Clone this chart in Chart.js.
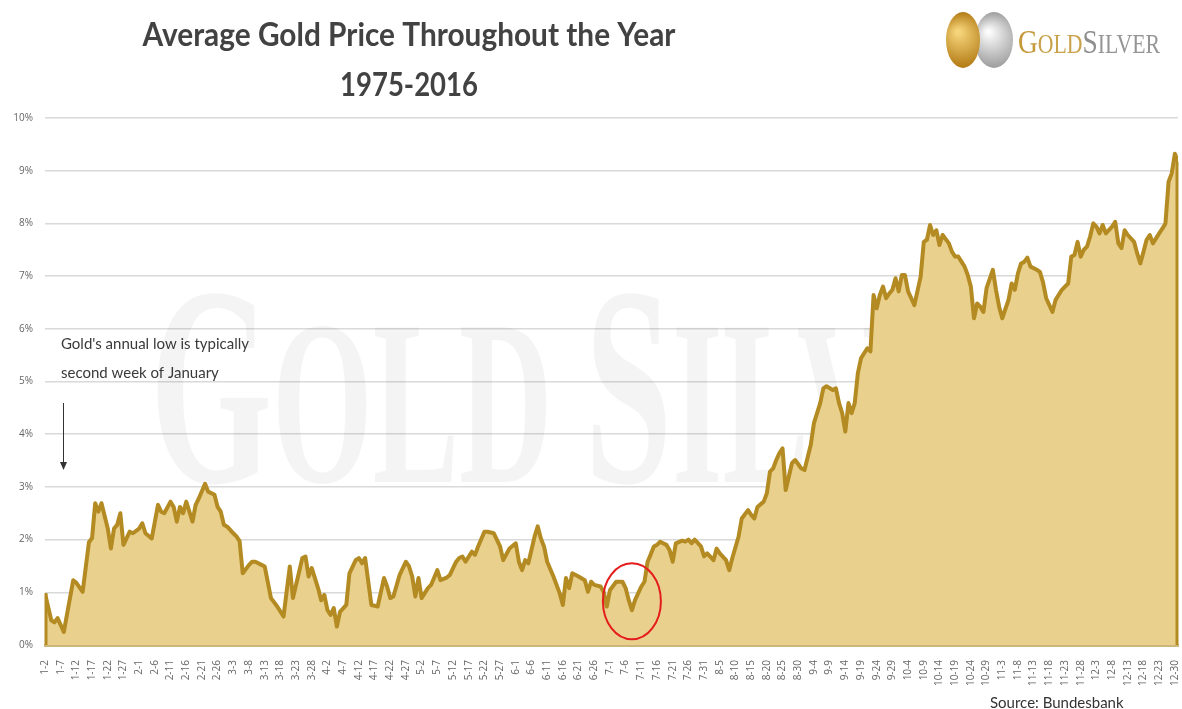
<!DOCTYPE html>
<html>
<head>
<meta charset="utf-8">
<style>
    body { margin: 0; background: #ffffff; }
    #wrap { position: relative; width: 1182px; height: 709px; overflow: hidden; }
</style>
<script src="https://cdn.jsdelivr.net/npm/chart.js@4"></script>
</head>
<body>
<div id="wrap"><canvas id="goldChart" width="1182" height="709"></canvas></div>
<script>
// days counted from Jan 2, average gain (%) reached on that day
var days = [0, 2, 3, 4, 6, 9, 10, 12, 14, 15, 16, 17, 18, 20, 21, 22, 23, 24, 25, 27, 28, 30, 31, 32, 34, 36, 37, 38, 40, 41,
    42, 43, 44, 45, 47, 48, 49, 51, 52, 54, 55, 56, 57, 58, 60, 61, 62, 63, 65, 66, 67, 69, 70, 72, 74, 76, 78, 79, 82, 83,
    84, 85, 87, 88, 89, 90, 91, 92, 93, 94, 96, 97, 99, 100, 101, 102, 104, 106, 108, 109, 110, 111, 113, 115, 116, 117, 118, 119, 120, 122,
    123, 125, 126, 128, 129, 131, 132, 133, 134, 136, 137, 138, 140, 141, 143, 145, 146, 148, 150, 151, 152, 153, 154, 156, 157, 158, 159, 160, 162, 164,
    165, 166, 167, 168, 170, 172, 173, 174, 175, 177, 178, 179, 180, 182, 184, 185, 186, 187, 188, 190, 191, 192, 193, 194, 195, 196, 198, 199, 200, 201,
    203, 204, 205, 206, 207, 209, 210, 211, 213, 214, 215, 217, 218, 219, 221, 222, 224, 225, 226, 227, 229, 230, 231, 232, 233, 234, 235, 236, 238, 239,
    241, 242, 244, 245, 247, 248, 249, 251, 252, 253, 254, 255, 256, 257, 258, 259, 260, 262, 263, 264, 265, 266, 267, 268, 269, 270, 271, 272, 273, 274,
    275, 276, 277, 279, 280, 281, 282, 283, 284, 285, 286, 288, 289, 290, 291, 293, 294, 295, 296, 297, 298, 299, 300, 302, 303, 304, 305, 307, 308, 309,
    310, 311, 312, 313, 314, 316, 317, 318, 319, 321, 322, 324, 325, 326, 327, 328, 329, 330, 331, 332, 333, 334, 335, 336, 337, 338, 340, 341, 342, 343,
    344, 345, 347, 348, 349, 350, 351, 352, 353, 355, 356, 357, 358, 359, 360, 361];
var avgGain = [0.98, 0.47, 0.43, 0.51, 0.25, 1.23, 1.18, 1.01, 1.95, 2.03, 2.69, 2.53, 2.69, 2.21, 1.83, 2.21, 2.28, 2.50, 1.90, 2.15, 2.12, 2.21, 2.31, 2.12, 2.02, 2.66, 2.53, 2.50, 2.72, 2.62,
    2.34, 2.62, 2.50, 2.72, 2.34, 2.66, 2.78, 3.06, 2.91, 2.85, 2.62, 2.53, 2.28, 2.25, 2.12, 2.06, 1.97, 1.36, 1.52, 1.58, 1.58, 1.52, 1.49, 0.89, 0.73, 0.54, 1.49, 0.89, 1.65, 1.68,
    1.30, 1.46, 1.08, 0.85, 0.95, 0.66, 0.57, 0.70, 0.35, 0.63, 0.76, 1.36, 1.61, 1.65, 1.55, 1.65, 0.76, 0.73, 1.27, 1.11, 0.89, 0.92, 1.33, 1.58, 1.49, 1.30, 0.92, 1.27, 0.89, 1.08,
    1.14, 1.42, 1.23, 1.28, 1.33, 1.58, 1.65, 1.68, 1.58, 1.77, 1.71, 1.87, 2.15, 2.15, 2.12, 1.87, 1.61, 1.83, 1.93, 1.58, 1.42, 1.61, 1.55, 2.06, 2.25, 2.02, 1.87, 1.58, 1.30, 0.98,
    0.76, 1.27, 1.08, 1.36, 1.30, 1.23, 1.01, 1.20, 1.14, 1.11, 1.01, 0.73, 1.04, 1.20, 1.20, 1.08, 0.85, 0.66, 0.85, 1.11, 1.20, 1.58, 1.72, 1.87, 1.90, 1.96, 1.90, 1.80, 1.58, 1.93,
    1.98, 1.96, 2.00, 1.93, 2.00, 1.87, 1.68, 1.74, 1.61, 1.83, 1.74, 1.61, 1.42, 1.65, 2.06, 2.40, 2.56, 2.47, 2.40, 2.62, 2.72, 2.88, 3.29, 3.35, 3.51, 3.64, 3.73, 2.94, 3.45, 3.51,
    3.35, 3.32, 3.80, 4.21, 4.59, 4.87, 4.91, 4.84, 4.87, 4.59, 4.40, 4.05, 4.59, 4.40, 4.59, 5.16, 5.44, 5.63, 5.57, 6.64, 6.39, 6.64, 6.80, 6.58, 6.67, 6.74, 6.96, 6.71, 7.02, 7.02,
    6.71, 6.58, 6.45, 6.99, 7.65, 7.69, 7.97, 7.78, 7.87, 7.59, 7.78, 7.62, 7.46, 7.37, 7.37, 7.18, 7.02, 6.80, 6.20, 6.48, 6.42, 6.32, 6.77, 7.12, 6.74, 6.42, 6.20, 6.55, 6.86, 6.74,
    7.05, 7.24, 7.27, 7.35, 7.18, 7.12, 7.08, 6.88, 6.58, 6.32, 6.55, 6.74, 6.80, 6.86, 7.37, 7.40, 7.65, 7.37, 7.50, 7.56, 7.75, 8.00, 7.94, 7.81, 7.97, 7.81, 7.94, 8.03, 7.62, 7.53,
    7.87, 7.78, 7.65, 7.43, 7.24, 7.46, 7.69, 7.78, 7.62, 7.81, 7.90, 8.00, 8.79, 8.95, 9.32, 9.17];

// one x label every 5 days
var tickLabels = ['1-2', '1-7', '1-12', '1-17', '1-22', '1-27', '2-1', '2-6', '2-11', '2-16', '2-21', '2-26',
    '3-3', '3-8', '3-13', '3-18', '3-23', '3-28', '4-2', '4-7', '4-12', '4-17', '4-22', '4-27',
    '5-2', '5-7', '5-12', '5-17', '5-22', '5-27', '6-1', '6-6', '6-11', '6-16', '6-21', '6-26',
    '7-1', '7-6', '7-11', '7-16', '7-21', '7-26', '7-31', '8-5', '8-10', '8-15', '8-20', '8-25', '8-30',
    '9-4', '9-9', '9-14', '9-19', '9-24', '9-29', '10-4', '10-9', '10-14', '10-19', '10-24', '10-29',
    '11-3', '11-8', '11-13', '11-18', '11-23', '11-28', '12-3', '12-8', '12-13', '12-18', '12-23', '12-30'];

var titleLines = ['Average Gold Price Throughout the Year', '1975-2016'];
var noteLines = ["Gold's annual low is typically", 'second week of January'];
var sourceText = 'Source: Bundesbank';

var lineColor = '#b38b22';
var fillColor = '#e9d08d';

// mid-July dip that gets circled
var circleDay = 187;
var circleValue = 0.83;

// writes text in small caps: pieces are [text, fontSize, color], squeezed to a target width
function smallCaps(ctx, pieces, x, baseline, width, family, weight) {
    var total = 0;
    weight = weight || '';
    pieces.forEach(function (p) {
        ctx.font = weight + ' ' + p[1] + 'px ' + family;
        total += ctx.measureText(p[0]).width;
    });
    ctx.save();
    ctx.translate(x, baseline);
    ctx.scale(width / total, 1);
    ctx.textAlign = 'left';
    ctx.textBaseline = 'alphabetic';
    var cx = 0;
    pieces.forEach(function (p) {
        ctx.font = weight + ' ' + p[1] + 'px ' + family;
        ctx.fillStyle = p[2];
        ctx.fillText(p[0], cx, 0);
        cx += ctx.measureText(p[0]).width;
    });
    ctx.restore();
}

function coin(ctx, cx, cy, rx, ry, light, dark) {
    var g = ctx.createRadialGradient(cx - rx * 0.3, cy - ry * 0.3, 2, cx, cy, ry);
    g.addColorStop(0, light);
    g.addColorStop(1, dark);
    ctx.beginPath();
    ctx.ellipse(cx, cy, rx, ry, 0, 0, Math.PI * 2);
    ctx.fillStyle = g;
    ctx.fill();
}

var decorations = {
    id: 'decorations',
    beforeDatasetsDraw: function (chart) {
        // faint brand name behind the area
        var wm = 'rgba(0,0,0,0.045)';
        smallCaps(chart.ctx, [['G', 285, wm], ['OLD', 235, wm], [' ', 235, wm], ['S', 285, wm], ['ILVER', 235, wm]],
            150, 482, 920, '"Liberation Serif", serif', 'bold');
    },
    afterDatasetsDraw: function (chart) {
        var ctx = chart.ctx;
        var xs = chart.scales.x, ys = chart.scales.y;
        var n = days.length - 1;

        // close the area outline on both ends
        ctx.save();
        ctx.strokeStyle = lineColor;
        ctx.lineWidth = 3;
        ctx.beginPath();
        ctx.moveTo(xs.getPixelForValue(days[0]) + 1, ys.getPixelForValue(0));
        ctx.lineTo(xs.getPixelForValue(days[0]) + 1, ys.getPixelForValue(avgGain[0]));
        ctx.moveTo(xs.getPixelForValue(days[n]) - 1, ys.getPixelForValue(0));
        ctx.lineTo(xs.getPixelForValue(days[n]) - 1, ys.getPixelForValue(avgGain[n]));
        ctx.stroke();

        // red ring round the July dip
        ctx.strokeStyle = '#e51c1c';
        ctx.lineWidth = 2;
        ctx.beginPath();
        ctx.ellipse(xs.getPixelForValue(circleDay), ys.getPixelForValue(circleValue), 29, 38, 0, 0, Math.PI * 2);
        ctx.stroke();

        // note and arrow pointing at the January low
        ctx.fillStyle = '#3a3a3a';
        ctx.font = '15px Lato, sans-serif';
        ctx.textAlign = 'left';
        ctx.textBaseline = 'middle';
        ctx.fillText(noteLines[0], 61, 344, 188);
        ctx.fillText(noteLines[1], 61, 373, 158);

        ctx.strokeStyle = '#333333';
        ctx.lineWidth = 1;
        ctx.beginPath();
        ctx.moveTo(63.5, 403);
        ctx.lineTo(63.5, 464);
        ctx.stroke();
        ctx.fillStyle = '#333333';
        ctx.beginPath();
        ctx.moveTo(60, 462);
        ctx.lineTo(67, 462);
        ctx.lineTo(63.5, 470);
        ctx.closePath();
        ctx.fill();
        ctx.restore();
    },
    afterDraw: function (chart) {
        var ctx = chart.ctx;
        ctx.save();

        // title
        ctx.fillStyle = '#424242';
        ctx.textAlign = 'center';
        ctx.textBaseline = 'middle';
        ctx.font = 'bold 32px Lato, sans-serif';
        ctx.fillText(titleLines[0], 409, 36, 533);
        ctx.fillText(titleLines[1], 409, 86, 138);

        // logo: two coins and the name
        coin(ctx, 994, 40, 19, 28, '#fbfbfb', '#9c9c9c');
        coin(ctx, 963, 40, 17, 28, '#f6d47a', '#b27a14');
        smallCaps(ctx, [['G', 34, '#c69a3c'], ['OLD', 27, '#c9a24c'], ['S', 34, '#8e8e8e'], ['ILVER', 27, '#959595']],
            1018, 53, 142, '"Liberation Serif", serif');

        // source line
        ctx.fillStyle = '#333333';
        ctx.textAlign = 'left';
        ctx.textBaseline = 'alphabetic';
        ctx.font = '15px Lato, sans-serif';
        ctx.fillText(sourceText, 990, 708, 136);
        ctx.restore();
    }
};

var ctx = document.getElementById('goldChart').getContext('2d');
var goldChart = new Chart(ctx, {
    type: 'line',
    data: {
        datasets: [{
            data: days.map(function (d, i) { return { x: d, y: avgGain[i] }; }),
            borderColor: lineColor,
            borderWidth: 4,
            borderJoinStyle: 'round',
            backgroundColor: fillColor,
            fill: 'origin',
            pointRadius: 0,
            tension: 0
        }]
    },
    options: {
        responsive: false,
        animation: false,
        layout: { padding: { left: 0, right: 4, top: 118, bottom: 0 } },
        plugins: {
            legend: { display: false },
            tooltip: { enabled: false }
        },
        scales: {
            x: {
                type: 'linear',
                min: 0,
                max: 361,
                grid: { display: false },
                border: { color: '#cdb67c', width: 3 },
                afterBuildTicks: function (scale) {
                    scale.ticks = tickLabels.map(function (t, i) { return { value: i * 5 }; });
                },
                afterFit: function (scale) {
                    scale.height = 64;
                    scale.paddingLeft = 0;
                    scale.paddingRight = 0;
                },
                ticks: {
                    autoSkip: false,
                    minRotation: 90,
                    maxRotation: 90,
                    padding: 7,
                    color: '#666666',
                    font: { size: 10, family: '"Open Sans", sans-serif' },
                    callback: function (v) { return tickLabels[Math.round(v / 5)]; }
                }
            },
            y: {
                min: 0,
                max: 10,
                border: { display: false },
                grid: {
                    color: function (c) { return c.tick.value === 0 ? 'rgba(0,0,0,0)' : '#d9d9d9'; },
                    lineWidth: 1.5,
                    drawTicks: false
                },
                afterFit: function (scale) { scale.width = 45; },
                ticks: {
                    stepSize: 1,
                    padding: 12,
                    color: '#666666',
                    font: { size: 10, family: '"Open Sans", sans-serif' },
                    callback: function (v) { return v + '%'; }
                }
            }
        }
    },
    plugins: [decorations]
});
</script>
</body>
</html>
